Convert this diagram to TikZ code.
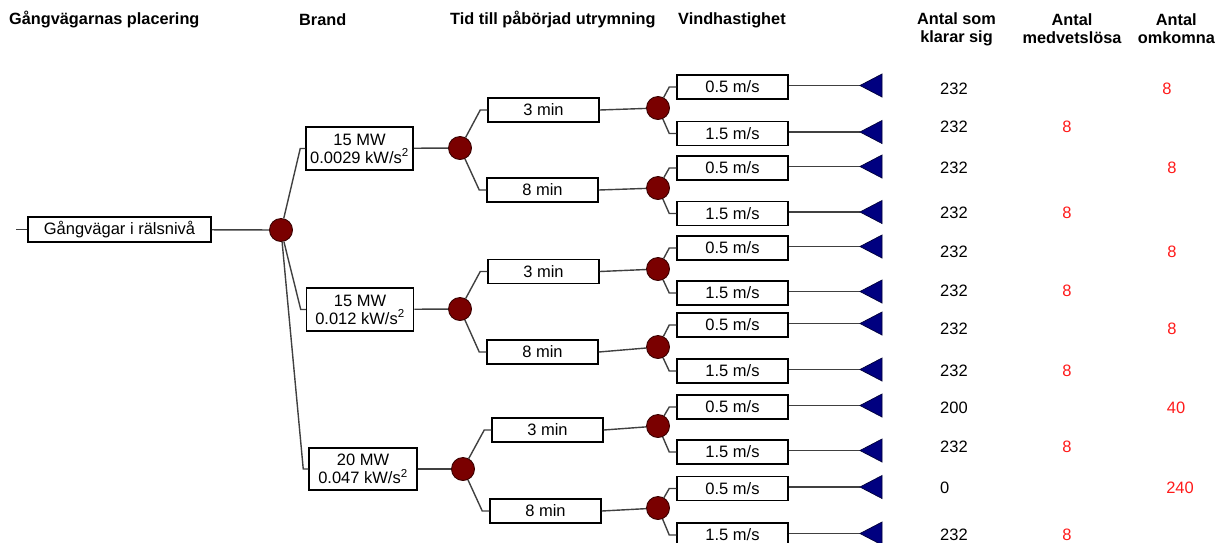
\documentclass[tikz,border=0pt]{standalone}
\usepackage{fontspec}
\setmainfont{Liberation Sans}
\definecolor{darkred}{HTML}{7A0000}
\definecolor{darkredb}{HTML}{3A0000}
\definecolor{navyfill}{HTML}{000080}
\definecolor{navyb}{HTML}{00003A}
\definecolor{linegray}{HTML}{404040}
\definecolor{numred}{HTML}{FF1A1A}
\begin{document}
\begin{tikzpicture}[x=1pt,y=-1pt,
  hd/.style={font=\fontsize{16.3}{18}\selectfont\bfseries, inner sep=0pt},
  box/.style={draw=black, line width=1.5pt, fill=white, inner sep=0pt, minimum width=111pt, minimum height=24pt, font=\fontsize{16.5}{18}\selectfont, align=center},
  bbox/.style={box, minimum width=107pt, minimum height=43pt},
  chance/.style={circle, fill=darkred, draw=darkredb, line width=0.9pt, minimum size=23pt, inner sep=0pt},
  conn/.style={draw=linegray, line width=1.4pt},
  term/.style={fill=navyfill, draw=navyb, line width=0.7pt},
  num/.style={font=\fontsize{16.5}{18}\selectfont, inner sep=0pt},
  rnum/.style={num, text=numred}
]
\useasboundingbox (0,0) rectangle (1217,542);

% headers
\node[hd, anchor=west] (h1) at (9,20) {Gångvägarnas placering};
\node[hd, anchor=west] (h2) at (299,20) {Brand};
\node[hd, anchor=west] (h3) at (450,20) {Tid till påbörjad utrymning};
\node[hd, anchor=west] (h4) at (678,20) {Vindhastighet};
\node[hd, align=center] (h5) at (956.5,29) {Antal som\\klarar sig};
\node[hd, align=center] (h6) at (1072,29) {Antal\\medvetslösa};
\node[hd, align=center, anchor=east] (h7) at (1215,29) {Antal\\omkomna};

% root
\coordinate (s) at (16,229.5);
\node[box, minimum width=183pt, minimum height=25pt] (root) at (119.5,229.5) {Gångvägar i rälsnivå};
\node[chance] (c0) at (281,230) {};

% brand
\node[bbox] (b1) at (359.5,148.5) {15 MW\\0.0029 kW/s\textsuperscript{2}};
\node[bbox] (b2) at (360,309.5) {15 MW\\0.012 kW/s\textsuperscript{2}};
\node[bbox, minimum width=108pt, minimum height=42pt] (b3) at (363,469) {20 MW\\0.047 kW/s\textsuperscript{2}};
\node[chance] (bc1) at (460,148) {};
\node[chance] (bc2) at (460,309) {};
\node[chance] (bc3) at (463,469) {};

% time
\node[box] (tm1) at (543.5,110) {3 min};
\node[box] (tm2) at (542.5,190) {8 min};
\node[box] (tm3) at (543.5,271.5) {3 min};
\node[box] (tm4) at (542.5,352) {8 min};
\node[box] (tm5) at (547.5,430) {3 min};
\node[box] (tm6) at (545.5,511) {8 min};
\node[chance] (tc1) at (658,108) {};
\node[chance] (tc2) at (658,188) {};
\node[chance] (tc3) at (658,269) {};
\node[chance] (tc4) at (658,347) {};
\node[chance] (tc5) at (658,426) {};
\node[chance] (tc6) at (658,508) {};

% connectors root/brand/time
\draw[conn] (s) -- (root.west);
\draw[conn] (root) -- (c0);
\foreach \b in {1,2,3}{
  \draw[conn] (c0) -- ([xshift=-5pt]b\b.west) -- (b\b.west);
  \draw[conn] (b\b) -- (bc\b);
}
\foreach \t/\b in {1/1,2/1,3/2,4/2,5/3,6/3}{
  \draw[conn] (bc\b) -- ([xshift=-7pt]tm\t.west) -- (tm\t.west);
  \draw[conn] (tm\t.east) -- (tc\t);
}

% wind and terminals
\foreach \i/\yy/\p/\lab in {1/87/1/0.5, 2/133.5/1/1.5, 3/168/2/0.5, 4/213.5/2/1.5, 5/248/3/0.5, 6/293/3/1.5, 7/325/4/0.5, 8/371/4/1.5, 9/407/5/0.5, 10/452/5/1.5, 11/488.5/6/0.5, 12/535/6/1.5}{
  \node[box] (w\i) at (732.5,\yy) {\lab\ m/s};
  \coordinate (tr\i) at (860,\yy-1.5);
  \draw[conn] (tc\p) -- ([xshift=-7pt]w\i.west) -- (w\i.west);
  \draw[conn] (w\i.east |- tr\i) -- (tr\i);
  \filldraw[term] (tr\i) -- ++(22,-11.5) -- ++(0,23) -- cycle;
}

% numbers
\foreach \i/\yy/\v in {1/89/232, 2/127/232, 3/168/232, 4/213/232, 5/252/232, 6/291/232, 7/329/232, 8/371/232, 9/408/200, 10/447/232, 11/488/0, 12/535/232}{
  \node[num, anchor=west] (n\i) at (940,\yy) {\v};
}
\foreach \i/\yy in {2/127, 4/213, 6/291, 8/371, 10/447, 12/535}{
  \node[rnum] (m\i) at (1067,\yy) {8};
}
\node[rnum] (o1) at (1167,89) {8};
\node[rnum] (o3) at (1172,168) {8};
\node[rnum] (o5) at (1172,252) {8};
\node[rnum] (o7) at (1172,329) {8};
\node[rnum] (o9) at (1176,408) {40};
\node[rnum] (o11) at (1180,488) {240};
\end{tikzpicture}
\end{document}
